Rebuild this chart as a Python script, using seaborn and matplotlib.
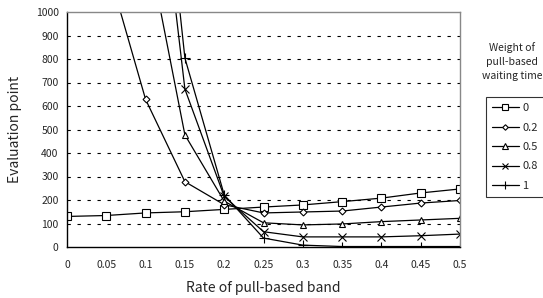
import numpy as np
import pandas as pd
import matplotlib
matplotlib.use("Agg")
import matplotlib.pyplot as plt
import seaborn as sns

# x values: rate of pull-based band
rate = [0, 0.05, 0.1, 0.15, 0.2, 0.25, 0.3, 0.35, 0.4, 0.45, 0.5]
weights = ["0", "0.2", "0.5", "0.8", "1"]

# evaluation point per weight (values left of the visible area run off the top)
w_0 = [130, 134, 145, 150, 160, 170, 179, 193, 208, 230, 247]
w_02 = [np.nan, 1210, 628, 278, 180, 145, 149, 153, 170, 187, 198]
w_05 = [np.nan, np.nan, 1330, 477, 195, 103, 94, 98, 108, 115, 122]
w_08 = [np.nan, np.nan, 2100, 672, 215, 65, 43, 43, 43, 48, 55]
w_1 = [np.nan, np.nan, 2370, 804, 222, 38, 8, 2, 2, 2, 2]

series = [w_0, w_02, w_05, w_08, w_1]
rows = []
for w, vals in zip(weights, series):
    for x, v in zip(rate, vals):
        rows.append({"rate": x, "value": v, "weight": w})
df = pd.DataFrame(rows).dropna()

sns.set_style("white")
plt.rcParams['font.family'] = ['Noto Sans CJK JP', 'DejaVu Sans']

fig = plt.figure(figsize=(5.43, 2.98), dpi=100)
ax = fig.add_axes([67 / 543, 51 / 298, 393 / 543, 235 / 298])

markers = {"0": "s", "0.2": "D", "0.5": "^", "0.8": "x", "1": "+"}
sizes = {"0": 6, "0.2": 3.5, "0.5": 5, "0.8": 5.5, "1": 7}

for w in weights:
    sub = df[df["weight"] == w]
    sns.lineplot(data=sub, x="rate", y="value", ax=ax, color="black",
                 linewidth=0.9, marker=markers[w], markersize=sizes[w],
                 markerfacecolor="white", markeredgecolor="black",
                 markeredgewidth=0.8, label=w)

ax.set_xlim(0, 0.5)
ax.set_ylim(0, 1000)
ax.set_xticks(rate)
ax.set_xticklabels(["0", "0.05", "0.1", "0.15", "0.2", "0.25", "0.3", "0.35", "0.4", "0.45", "0.5"])
ax.set_yticks(range(0, 1001, 100))
ax.tick_params(axis="x", direction="in", length=3, width=0.8, pad=9, labelsize=7.5)
ax.tick_params(axis="y", length=0, pad=6, labelsize=7.5)

for y in range(100, 1000, 100):
    ax.axhline(y, color="black", linewidth=0.8, linestyle=(0, (3, 6)), zorder=0)

ax.spines["left"].set_color("black")
ax.spines["bottom"].set_color("black")
ax.spines["top"].set_color("#888888")
ax.spines["right"].set_color("#888888")
for s in ax.spines.values():
    s.set_linewidth(1.0)

ax.set_xlabel("Rate of pull-based band", fontsize=10, labelpad=8)
ax.set_ylabel("Evaluation point", fontsize=10, labelpad=10)

leg = ax.legend(loc="upper left", bbox_to_anchor=(486 / 543, 1 - 97 / 298),
                bbox_transform=fig.transFigure, borderaxespad=0,
                frameon=True, fancybox=False, fontsize=8, handlelength=2.4,
                handletextpad=0.3, labelspacing=0.85, borderpad=0.55,
                markerscale=0.8)
leg.get_frame().set_edgecolor("black")
leg.get_frame().set_linewidth(0.8)

fig.text(512 / 543, 1 - 62 / 298, "Weight of\npull-based\nwaiting time",
         ha="center", va="center", fontsize=7.5, linespacing=1.5)

fig.savefig("out.png", dpi=100)
